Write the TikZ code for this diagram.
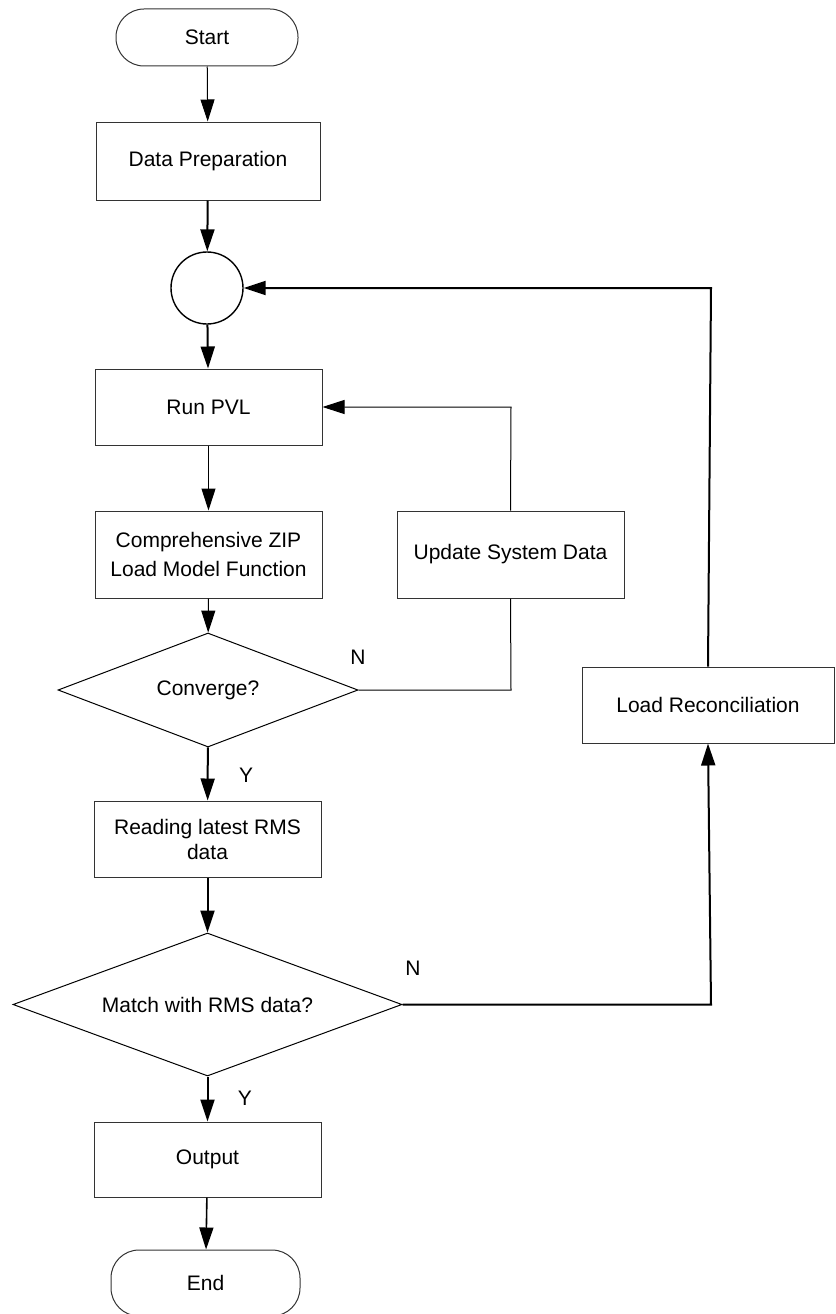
\documentclass[tikz,border=0pt]{standalone}
\usepackage{fontspec}
\setmainfont{Liberation Sans}
\usetikzlibrary{shapes.geometric,arrows.meta}
\tikzset{
  x=1pt, y=-1pt,
  base/.style={draw=black!80, line width=1pt, inner sep=0pt, align=center,
    font=\fontsize{21}{28.5}\selectfont},
  procbox/.style={base, rectangle, minimum width=227pt, minimum height=76pt},
  term/.style={base, rectangle, rounded corners=28pt},
  junction/.style={base, circle, line width=1.4pt, draw=black, minimum size=72pt},
  decision/.style={base, diamond, draw=black},
  lbl/.style={inner sep=0pt, font=\fontsize{21}{25}\selectfont},
  thin/.style={draw=black, line width=1pt},
  thick/.style={draw=black, line width=2pt},
  tip/.style={-{Triangle[length=22pt,width=14pt]}}
}
\begin{document}
\begin{tikzpicture}
\useasboundingbox (0,0) rectangle (835,1314);
% nodes
\node[term, minimum width=182pt, minimum height=57pt] (start) at (207,37.5) {Start};
\node[procbox, minimum width=224pt, minimum height=78pt] (prep) at (208,161) {Data Preparation};
\node[junction] (junc) at (207,288) {};
\node[procbox] (pvl) at (208.5,407) {Run PVL};
\node[procbox, minimum height=87pt] (zip) at (208.5,554.5) {Comprehensive ZIP\\Load Model Function};
\node[procbox, minimum height=87pt] (upd) at (510.5,554.5) {Update System Data};
\node[decision, aspect=2.63, minimum width=300pt, minimum height=114pt] (conv) at (208,690) {Converge?};
\node[procbox, font=\fontsize{21}{25}\selectfont] (read) at (207.5,839) {Reading latest RMS\\data};
\node[decision, aspect=2.72, minimum width=389pt, minimum height=143pt] (match) at (207.5,1004.5) {Match with RMS data?};
\node[procbox, minimum height=75pt] (out) at (207.5,1159.5) {Output};
\node[term, minimum width=189pt, minimum height=66pt] (end) at (205.5,1283) {End};
\node[procbox, minimum width=252pt] (rec) at (708,705) {Load Reconciliation};
% labels
\node[lbl] (n1) at (358,657) {N};
\node[lbl] (y1) at (246,775) {Y};
\node[lbl] (n2) at (413,968) {N};
\node[lbl] (y2) at (245,1098) {Y};
% corner coordinates
\coordinate (c1) at (511,690);
\coordinate (c2) at (511,407);
\coordinate (c3) at (711,1004.5);
\coordinate (c4) at (711,288);
% connectors
\draw[thin, tip] (start) -- (prep);
\draw[thick, tip] (prep) -- (junc);
\draw[thick, tip] (junc) -- (pvl);
\draw[thin, tip] (pvl) -- (zip);
\draw[thin, tip] (zip) -- (conv);
\draw[thin] (conv.east) -- (c1) -- (upd.south);
\draw[thin, tip] (upd.north) -- (c2) -- (pvl.east);
\draw[thick, tip] (conv) -- (read);
\draw[thick, tip] (read) -- (match);
\draw[thick, tip] (match.east) -- (c3) -- (rec.south);
\draw[thick, tip] (rec.north) -- (c4) -- (junc.east);
\draw[thick, tip] (match) -- (out);
\draw[thick, line width=1.6pt, tip] (out) -- (end);
\end{tikzpicture}
\end{document}
